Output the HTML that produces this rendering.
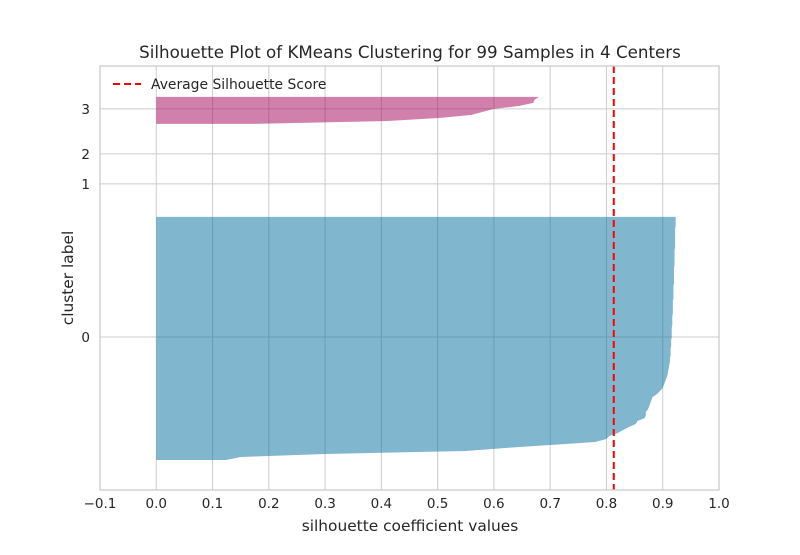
<!DOCTYPE html>
<html><head><meta charset="utf-8"><style>
body{margin:0;background:#fff}
svg text{font-family:"DejaVu Sans","Liberation Sans",sans-serif;fill:#262626}
</style></head><body>
<svg id="chart" width="800" height="550" xmlns="http://www.w3.org/2000/svg">
<rect width="800" height="550" fill="#fff"/>
<g id="grid"></g>
<g id="fills"></g>
<g id="axes"></g>
</svg>
<script>
const xTicks = [-0.1,0,0.1,0.2,0.3,0.4,0.5,0.6,0.7,0.8,0.9,1.0];
const xTickLabels = ["\u22120.1","0.0","0.1","0.2","0.3","0.4","0.5","0.6","0.7","0.8","0.9","1.0"];
const clusterLabels = ["0","1","2","3"];
const clusterSizes = [82,0,0,10];
const cluster0 = [0.124,0.15,0.30,0.55,0.62,0.70,0.78,0.80,0.805,0.82,0.830,0.840,0.852,0.855,0.868,0.870,0.870,0.874,0.876,0.878,0.880,0.882,0.890,0.895,0.900,0.902,0.904,0.906,0.908,0.909,0.910,0.911,0.912,0.913,0.913,0.914,0.914,0.914,0.915,0.915,0.915,0.916,0.916,0.916,0.916,0.917,0.917,0.917,0.917,0.918,0.918,0.918,0.918,0.918,0.919,0.919,0.919,0.919,0.919,0.920,0.920,0.920,0.920,0.920,0.920,0.921,0.921,0.921,0.921,0.921,0.921,0.922,0.922,0.922,0.922,0.922,0.922,0.922,0.923,0.923,0.923,0.923];
const cluster3 = [0.17,0.415,0.505,0.56,0.58,0.60,0.645,0.67,0.672,0.68];
const clusterValues = [cluster0,[],[],cluster3];
const clusterColors = ["rgba(1,109,157,0.5)","rgba(0,0,0,0)","rgba(0,0,0,0)","rgba(163,0,87,0.5)"];
const avgScore = 0.813;
const yMax = 141.3;

const L=100,R=719,T=66,B=490;
const xs = v => L + (v - (-0.1)) / 1.1 * (R - L);
const ys = v => B - v / yMax * (B - T);
const NS="http://www.w3.org/2000/svg";
function mk(tag, attrs, parent){const e=document.createElementNS(NS,tag);for(const k in attrs)e.setAttribute(k,attrs[k]);parent.appendChild(e);return e;}
const grid=document.getElementById('grid'), fills=document.getElementById('fills'), axes=document.getElementById('axes');

let yl=10; const labelPos=[], lowers=[];
clusterSizes.forEach((s,i)=>{lowers.push(yl);labelPos.push(yl+0.5*s);yl+=s+10;});

xTicks.forEach((t,i)=>{
  const g=mk('line',{x1:xs(t),x2:xs(t),y1:T,y2:B,stroke:'#cccccc','stroke-width':1},grid);
  
  
  const tx=mk('text',{x:xs(t),y:B+18,'text-anchor':'middle','font-size':13.5},axes);
  tx.textContent=xTickLabels[i];
  
  
});
labelPos.forEach((p,i)=>{
  const g=mk('line',{x1:L,x2:R,y1:ys(p),y2:ys(p),stroke:'#cccccc','stroke-width':1},grid);
  
  
  const tx=mk('text',{x:L-10,y:ys(p)+5,'text-anchor':'end','font-size':13.5},axes);
  tx.textContent=clusterLabels[i];
  
  
});

clusterValues.forEach((vals,i)=>{
  if(!vals.length) return;
  const y0=lowers[i];
  let pts=[[xs(0),ys(y0)],[xs(0),ys(y0+vals.length-1)]];
  for(let j=vals.length-1;j>=0;j--) pts.push([xs(vals[j]),ys(y0+j)]);
  const p=mk('polygon',{points:pts.map(q=>q.join(',')).join(' '),fill:clusterColors[i]},fills);
  
  
});

const av=mk('line',{x1:xs(avgScore),x2:xs(avgScore),y1:T,y2:B,stroke:'#ff0000','stroke-width':2,'stroke-dasharray':'7,4'},axes);



const fr=mk('rect',{x:L,y:T,width:R-L,height:B-T,fill:'none',stroke:'#cccccc','stroke-width':1.3},axes);



const ll=mk('line',{x1:113,x2:141,y1:84,y2:84,stroke:'#ff0000','stroke-width':2,'stroke-dasharray':'7,4'},axes);


const lt=mk('text',{x:151,y:89,'font-size':13.9},axes);
lt.textContent='Average Silhouette Score';



const tt=mk('text',{x:410,y:58,'text-anchor':'middle','font-size':16.7},axes);
tt.textContent='Silhouette Plot of KMeans Clustering for 99 Samples in 4 Centers';


const xt=mk('text',{x:410,y:531,'text-anchor':'middle','font-size':15.4},axes);
xt.textContent='silhouette coefficient values';


const yt=mk('text',{x:0,y:0,'text-anchor':'middle','font-size':15.4,transform:'translate(73,278) rotate(-90)'},axes);
yt.textContent='cluster label';


</script>
</body></html>
